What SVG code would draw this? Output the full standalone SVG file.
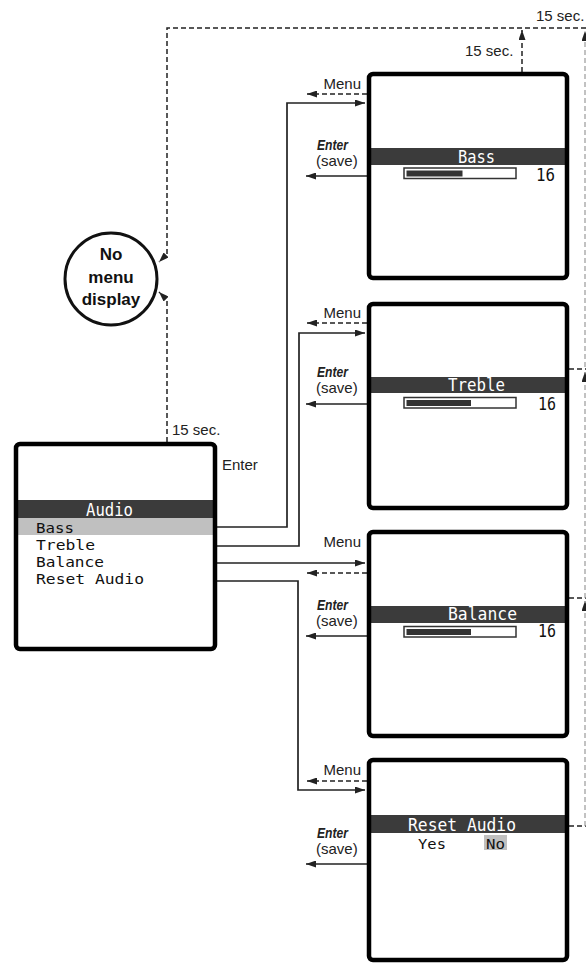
<svg xmlns="http://www.w3.org/2000/svg" width="586" height="964" viewBox="0 0 586 964">
<style>
.bg{fill:#fff}
.box{fill:none;stroke:#000;stroke-width:4.5}
.bar{fill:#3b3b3b}
.hl{fill:#c0c0c0}
.lcd{font-family:"DejaVu Sans Mono","Liberation Mono",monospace;font-size:17px;fill:#111}
.item{font-family:"DejaVu Sans Mono","Liberation Mono",monospace;font-size:14.5px;fill:#111}
.lcdw{font-family:"DejaVu Sans Mono","Liberation Mono",monospace;font-size:17px;fill:#fff}
.lbl{font-family:"Liberation Sans",Arial,sans-serif;font-size:15px;fill:#222}
.ent{font-family:"Liberation Sans",Arial,sans-serif;font-size:15px;font-weight:bold;font-style:italic;fill:#222}
.circ{font-family:"Liberation Sans",Arial,sans-serif;font-size:17px;font-weight:bold;fill:#111}
.conn{fill:none;stroke:#222;stroke-width:1.7}
.dash{fill:none;stroke:#222;stroke-width:1.5;stroke-dasharray:5 3}
.gdash{fill:none;stroke:#9a9a9a;stroke-width:1.2;stroke-dasharray:5 3}
.pb{fill:#fff;stroke:#333;stroke-width:1.5}
.pf{fill:#333}
</style>
<defs>
<marker id="ah" markerUnits="userSpaceOnUse" markerWidth="10" markerHeight="7" refX="10" refY="3.5" orient="auto">
<path d="M0,0 L10,3.5 L0,7 z" fill="#222"/>
</marker>
</defs>
<rect class="bg" x="0" y="0" width="586" height="964"/>

<g id="connectors">
<path class="conn" d="M217,527 H287 V103 H365" marker-end="url(#ah)"/>
<path class="conn" d="M217,546 H299 V333 H365" marker-end="url(#ah)"/>
<path class="conn" d="M217,563 H365" marker-end="url(#ah)"/>
<path class="conn" d="M217,581 H298 V790 H365" marker-end="url(#ah)"/>
<path class="conn" d="M367,176 H306" marker-end="url(#ah)"/>
<path class="conn" d="M367,404 H306" marker-end="url(#ah)"/>
<path class="conn" d="M367,636 H306" marker-end="url(#ah)"/>
<path class="conn" d="M367,864 H306" marker-end="url(#ah)"/>
<path class="dash" d="M367,94 H307" marker-end="url(#ah)"/>
<path class="dash" d="M367,323 H307" marker-end="url(#ah)"/>
<path class="dash" d="M367,573 H307" marker-end="url(#ah)"/>
<path class="dash" d="M367,781 H307" marker-end="url(#ah)"/>
<path class="dash" d="M586,28 H167 V254 L159,262" marker-end="url(#ah)"/>
<path class="dash" d="M167,442 V300 L159,292" marker-end="url(#ah)"/>
<path class="dash" d="M522,72 V30" marker-end="url(#ah)"/>
<path class="dash" d="M569,369 H586"/>
<path class="dash" d="M569,598 H586"/>
<path class="dash" d="M569,826 H586"/>
<path class="gdash" d="M585,826 V601" marker-end="url(#ah)"/>
<path class="gdash" d="M585,598 V372" marker-end="url(#ah)"/>
<path class="gdash" d="M585,367 V31" marker-end="url(#ah)"/>
<text class="lbl" x="536" y="21">15 sec.</text>
<text class="lbl" x="465" y="56">15 sec.</text>
<text class="lbl" x="172" y="435">15 sec.</text>
<text class="lbl" x="222" y="470">Enter</text>
<text class="lbl" x="361" y="89" text-anchor="end">Menu</text>
<text class="lbl" x="361" y="318" text-anchor="end">Menu</text>
<text class="lbl" x="361" y="547" text-anchor="end">Menu</text>
<text class="lbl" x="361" y="775" text-anchor="end">Menu</text>
<text class="ent" x="317" y="150" textLength="31" lengthAdjust="spacingAndGlyphs">Enter</text>
<text class="lbl" x="316" y="166">(save)</text>
<text class="ent" x="317" y="377" textLength="31" lengthAdjust="spacingAndGlyphs">Enter</text>
<text class="lbl" x="316" y="393">(save)</text>
<text class="ent" x="317" y="610" textLength="31" lengthAdjust="spacingAndGlyphs">Enter</text>
<text class="lbl" x="316" y="626">(save)</text>
<text class="ent" x="317" y="838" textLength="31" lengthAdjust="spacingAndGlyphs">Enter</text>
<text class="lbl" x="316" y="854">(save)</text>
</g>

<g id="no-menu">
<circle cx="111" cy="279" r="46" fill="#fff" stroke="#111" stroke-width="3"/>
<text class="circ" x="111" y="260" text-anchor="middle">No</text>
<text class="circ" x="111" y="283" text-anchor="middle">menu</text>
<text class="circ" x="111" y="305" text-anchor="middle">display</text>
</g>

<g id="audio">
<rect x="16" y="444" width="199" height="205" rx="4" fill="#fff"/>
<rect class="bar" x="16" y="500" width="199" height="18"/>
<rect class="hl" x="16" y="518" width="199" height="17"/>
<text class="lcdw" x="86" y="516" textLength="47" lengthAdjust="spacingAndGlyphs">Audio</text>
<text class="item" x="36" y="533" textLength="38" lengthAdjust="spacingAndGlyphs">Bass</text>
<text class="item" x="36" y="550" textLength="59" lengthAdjust="spacingAndGlyphs">Treble</text>
<text class="item" x="36" y="567" textLength="68" lengthAdjust="spacingAndGlyphs">Balance</text>
<text class="item" x="36" y="584" textLength="108" lengthAdjust="spacingAndGlyphs">Reset Audio</text>
<rect class="box" x="16" y="444" width="199" height="205" rx="4"/>
</g>

<g id="bass">
<rect x="369" y="74" width="198" height="204" rx="4" fill="#fff"/>
<rect class="bar" x="369" y="148" width="198" height="17"/>
<text class="lcdw" x="458" y="163" textLength="37" lengthAdjust="spacingAndGlyphs">Bass</text>
<rect class="pb" x="404" y="168" width="112" height="10.5"/>
<rect class="pf" x="406.5" y="170.5" width="56" height="6"/>
<text class="lcd" x="536" y="181" textLength="19" lengthAdjust="spacingAndGlyphs">16</text>
<rect class="box" x="369" y="74" width="198" height="204" rx="4"/>
</g>

<g id="treble">
<rect x="369" y="304" width="198" height="204" rx="4" fill="#fff"/>
<rect class="bar" x="369" y="377" width="198" height="16"/>
<text class="lcdw" x="448" y="391" textLength="57" lengthAdjust="spacingAndGlyphs">Treble</text>
<rect class="pb" x="404" y="397.5" width="112" height="10.5"/>
<rect class="pf" x="406.5" y="400" width="64.5" height="6"/>
<text class="lcd" x="538" y="410" textLength="18" lengthAdjust="spacingAndGlyphs">16</text>
<rect class="box" x="369" y="304" width="198" height="204" rx="4"/>
</g>

<g id="balance">
<rect x="369" y="532" width="198" height="204" rx="4" fill="#fff"/>
<rect class="bar" x="369" y="606" width="198" height="17"/>
<text class="lcdw" x="448" y="620" textLength="69" lengthAdjust="spacingAndGlyphs">Balance</text>
<rect class="pb" x="404" y="626.5" width="112" height="10.5"/>
<rect class="pf" x="406.5" y="629" width="64.5" height="6"/>
<text class="lcd" x="538" y="637" textLength="18" lengthAdjust="spacingAndGlyphs">16</text>
<rect class="box" x="369" y="532" width="198" height="204" rx="4"/>
</g>

<g id="reset">
<rect x="369" y="760" width="198" height="200" rx="4" fill="#fff"/>
<rect class="bar" x="369" y="815" width="198" height="18"/>
<text class="lcdw" x="408" y="831" textLength="108" lengthAdjust="spacingAndGlyphs">Reset Audio</text>
<rect class="hl" x="484" y="835" width="23" height="15"/>
<text class="item" x="418" y="849" textLength="28" lengthAdjust="spacingAndGlyphs">Yes</text>
<text class="item" x="486" y="849" textLength="19" lengthAdjust="spacingAndGlyphs">No</text>
<rect class="box" x="369" y="760" width="198" height="200" rx="4"/>
</g>
</svg>
